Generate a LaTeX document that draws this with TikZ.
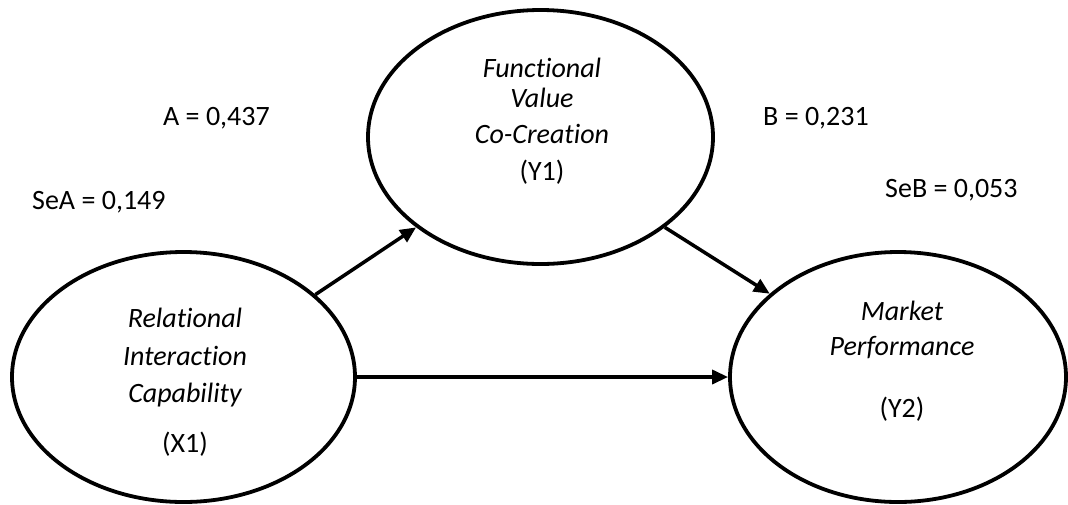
\documentclass[tikz,border=0pt]{standalone}
\usepackage{fontspec}
\setmainfont{Carlito}[Ligatures=NoCommon]
\usetikzlibrary{arrows.meta,shapes.geometric}
\begin{document}
\begin{tikzpicture}[x=1pt,y=-1pt,
  latent/.style={draw=black,line width=3.8pt,ellipse,inner sep=0pt},
  lbl/.style={anchor=base,inner sep=0pt,font=\fontsize{28}{34}\selectfont\itshape},
  code/.style={anchor=base,inner sep=0pt,font=\fontsize{28}{34}\selectfont},
  coef/.style={anchor=base west,inner sep=0pt,font=\fontsize{28}{34}\selectfont},
  path/.style={draw=black,line width=3.5pt,-{Triangle[length=16pt,width=14pt]}}]
\useasboundingbox (0,0) rectangle (1068,504);
% ellipses
\node[latent,minimum width=343pt,minimum height=250pt] (X1) at (183.5,377) {};
\node[latent,minimum width=345pt,minimum height=254pt] (Y1) at (540.5,137) {};
\node[latent,minimum width=336pt,minimum height=250pt] (Y2) at (898,377) {};
% texts in X1
\node[lbl] (x1a) at (185,327) {Relational};
\node[lbl] (x1b) at (185,365) {Interaction};
\node[lbl] (x1c) at (185,402) {Capability};
\node[code] (x1d) at (185,452) {(X1)};
% texts in Y1
\node[lbl] (y1a) at (542,77) {Functional};
\node[lbl] (y1b) at (542,107) {Value};
\node[lbl] (y1c) at (542,143) {Co-Creation};
\node[code] (y1d) at (542,180) {(Y1)};
% texts in Y2
\node[lbl] (y2a) at (902,320) {Market};
\node[lbl] (y2b) at (902,355) {Performance};
\node[code] (y2d) at (902,417) {(Y2)};
% coefficients
\node[coef] (ca) at (163,125) {A = 0,437};
\node[coef] (csa) at (32,209) {SeA = 0,149};
\node[coef] (cb) at (763,125) {B = 0,231};
\node[coef] (csb) at (885,197) {SeB = 0,053};
% paths
\draw[path] (X1.32) -- (Y1.216);
\draw[path] (Y1.324) -- (Y2.147);
\draw[path] (X1.east) -- (Y2.west);
\end{tikzpicture}
\end{document}
